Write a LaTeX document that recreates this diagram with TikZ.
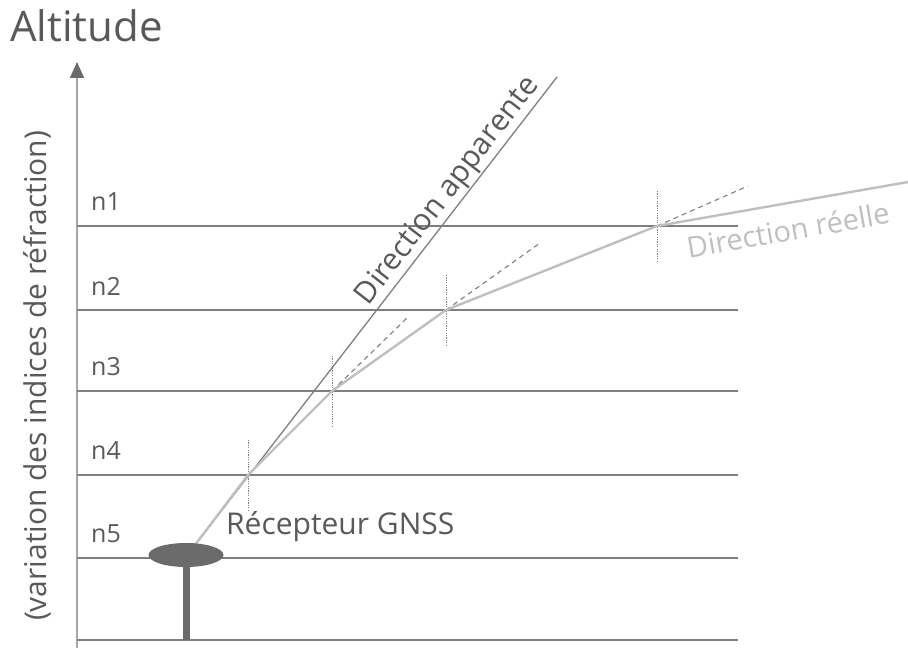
\documentclass[tikz,border=0pt]{standalone}
\usepackage{fontspec}
\setmainfont{Open Sans}
\usetikzlibrary{arrows.meta, shapes.geometric}
\definecolor{txtgray}{HTML}{595959}
\definecolor{linegray}{HTML}{7F7F7F}
\definecolor{raygray}{HTML}{BFBFBF}
\definecolor{axisgray}{HTML}{A6A6A6}
\definecolor{recgray}{HTML}{6B6B6B}
\tikzset{
	layer/.style={draw=linegray, line width=1.3pt},
	lbl/.style={text=txtgray, anchor=west, inner sep=0pt, font=\fontsize{25}{28}\selectfont},
	ray/.style={draw=raygray, line width=2.4pt, line join=round},
	apparent/.style={draw=linegray, line width=1.3pt},
	normal/.style={draw=linegray, line width=0.8pt, dash pattern=on 1.2pt off 1.2pt},
	prolong/.style={draw=linegray, line width=1.1pt, dash pattern=on 5pt off 4pt}
}

\begin{document}
\begin{tikzpicture}[x=1pt, y=-1pt]
	\useasboundingbox (0,0) rectangle (908,650);

	% axe vertical
	\coordinate (base) at (77,648);
	\coordinate (tip) at (77,62);
	\draw[axisgray, line width=1.6pt, -{Triangle[width=14pt, length=16pt, color=recgray]}] (base) -- (tip);
	\node[text=txtgray, anchor=base west, inner sep=0pt, font=\fontsize{42}{44}\selectfont] (alt) at (10,42) {Altitude};
	\node[text=txtgray, rotate=90, inner sep=0pt, font=\fontsize{30}{32}\selectfont] (yaxis) at (37,376) {(variation des indices de réfraction)};

	% couches
	\foreach \y/\n in {226/n1, 310/n2, 391/n3, 475/n4, 558/n5} {
		\draw[layer] (77,\y) -- (738,\y);
		\node[lbl] (\n) at (91,\y-24) {\n};
	}
	\draw[layer] (77,640) -- (738,640);

	% points de refraction
	\coordinate (rx) at (195,545);
	\coordinate (p4) at (248,475);
	\coordinate (p3) at (332,391);
	\coordinate (p2) at (446,310);
	\coordinate (p1) at (657,226);
	\coordinate (far) at (908,182);
	\coordinate (app) at (557,77);
	\coordinate (e3) at (407,318);
	\coordinate (e2) at (540,243);
	\coordinate (e1) at (748,186);

	% normales
	\foreach \p in {p4, p3, p2, p1}
		\draw[normal] (\p) ++(0,-35) -- ++(0,70);

	% direction apparente
	\draw[apparent] (rx) -- node[pos=0.735, sloped, above, inner sep=1pt, text=txtgray, font=\fontsize{30}{32}\selectfont] (appl) {Direction apparente} (app);

	% prolongements
	\draw[prolong] (p3) -- (e3);
	\draw[prolong] (p2) -- (e2);
	\draw[prolong] (p1) -- (e1);

	% direction reelle
	\draw[ray] (rx) -- (p4) -- (p3) -- (p2) -- (p1) -- (far);
	\node[rotate=10, inner sep=0pt, text=raygray, font=\fontsize{29}{31}\selectfont] (reel) at (788,230) {Direction réelle};

	% recepteur
	\fill[recgray] (182.5,562) rectangle (189.5,640);
	\node[ellipse, fill=recgray, minimum width=75pt, minimum height=24pt, inner sep=0pt] (rec) at (186,555) {};
	\node[text=txtgray, anchor=west, inner sep=0pt, font=\fontsize{30}{32}\selectfont] (recl) at (226,527) {Récepteur GNSS};
\end{tikzpicture}
\end{document}
